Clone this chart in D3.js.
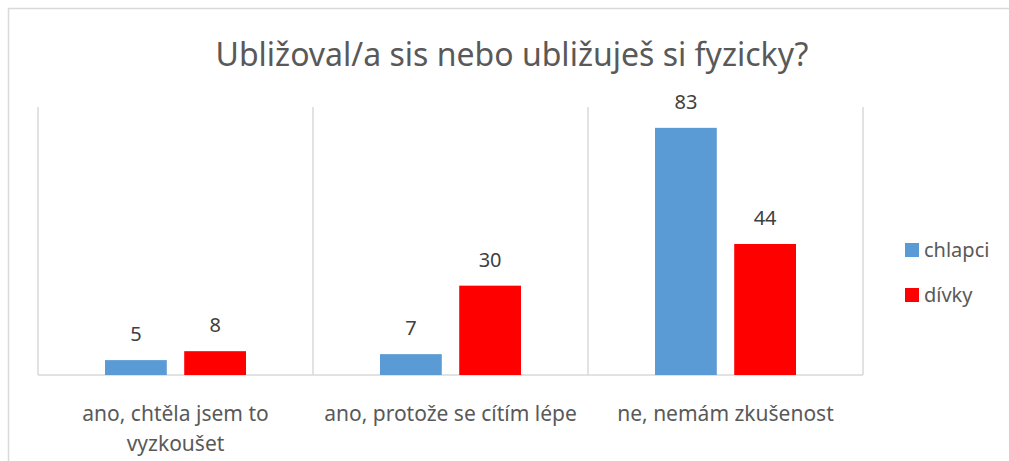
<!DOCTYPE html>
<html>
<head>
<meta charset="utf-8">
<script src="https://cdn.jsdelivr.net/npm/d3@7"></script>
<style>
  body { margin: 0; background: #fff; }
  text { font-family: "Noto Sans", sans-serif; }
</style>
</head>
<body>
<svg id="chart"></svg>
<script>
// data
var categories = [["ano, chtěla jsem to", "vyzkoušet"], ["ano, protože se cítím lépe"], ["ne, nemám zkušenost"]];
var seriesNames = ["chlapci", "dívky"];
var chlapci = [5, 7, 83];
var divky = [8, 30, 44];
var colors = ["#5B9BD5", "#FF0000"];

var W = 1009, H = 461;
var margin = {top: 107, right: 146, bottom: 86, left: 38},
    width = W - margin.left - margin.right,
    height = H - margin.top - margin.bottom;

var svg = d3.select("#chart").attr("width", W).attr("height", H);

// chart border
svg.append("rect")
    .attr("x", 8.5).attr("y", 8.5)
    .attr("width", W + 10).attr("height", H + 10)
    .attr("fill", "none").attr("stroke", "#d9d9d9").attr("stroke-width", 1.5);

svg.append("text")
    .attr("x", 512).attr("y", 66)
    .attr("text-anchor", "middle")
    .attr("fill", "#595959")
    .style("font-size", "32px")
    .text("Ubližoval/a sis nebo ubližuješ si fyzicky?");

var g = svg.append("g").attr("transform", "translate(" + margin.left + "," + margin.top + ")");

var idx = d3.range(categories.length);
var x0 = d3.scaleBand().domain(idx).range([0, width]).padding(0);
var x1 = d3.scaleBand().domain(seriesNames)
    .range([67, x0.bandwidth() - 67]).paddingInner(0.22);
var y = d3.scaleLinear().domain([0, 90]).range([height, 0]);

// vertical separators between categories
g.selectAll(".sep")
    .data(d3.range(categories.length + 1))
    .enter().append("line")
    .attr("x1", function (d) { return d * x0.step(); })
    .attr("x2", function (d) { return d * x0.step(); })
    .attr("y1", 0).attr("y2", height)
    .attr("stroke", "#d9d9d9").attr("stroke-width", 1.5);

// baseline
g.append("line")
    .attr("x1", 0).attr("x2", width)
    .attr("y1", height).attr("y2", height)
    .attr("stroke", "#d9d9d9").attr("stroke-width", 1.5);

var rows = idx.map(function (i) {
    return [{s: seriesNames[0], v: chlapci[i], c: colors[0]}, {s: seriesNames[1], v: divky[i], c: colors[1]}];
});

var groups = g.selectAll(".grp")
    .data(rows)
    .enter().append("g")
    .attr("transform", function (d, i) { return "translate(" + x0(i) + ",0)"; });

groups.selectAll("rect")
    .data(function (d) { return d; })
    .enter().append("rect")
    .attr("x", function (d) { return x1(d.s); })
    .attr("width", x1.bandwidth())
    .attr("y", function (d) { return y(d.v); })
    .attr("height", function (d) { return height - y(d.v); })
    .attr("fill", function (d) { return d.c; });

groups.selectAll(".val")
    .data(function (d) { return d; })
    .enter().append("text")
    .attr("x", function (d) { return x1(d.s) + x1.bandwidth() / 2; })
    .attr("y", function (d) { return y(d.v) - 19; })
    .attr("text-anchor", "middle")
    .attr("fill", "#404040")
    .style("font-size", "20px")
    .text(function (d) { return d.v; });

// category labels
var labels = g.selectAll(".cat")
    .data(categories)
    .enter().append("text")
    .attr("text-anchor", "middle")
    .attr("fill", "#595959")
    .style("font-size", "21px")
    .attr("transform", function (d, i) { return "translate(" + (x0(i) + x0.bandwidth() / 2) + "," + (height + 46) + ")"; });
labels.selectAll("tspan")
    .data(function (d) { return d; })
    .enter().append("tspan")
    .attr("x", 0)
    .attr("dy", function (d, i) { return i === 0 ? 0 : 30; })
    .text(function (d) { return d; });

// legend
var legend = svg.selectAll(".leg")
    .data(seriesNames)
    .enter().append("g")
    .attr("transform", function (d, i) { return "translate(905," + (243 + i * 45) + ")"; });
legend.append("rect")
    .attr("width", 14).attr("height", 14)
    .attr("fill", function (d, i) { return colors[i]; });
legend.append("text")
    .attr("x", 19).attr("y", 14)
    .attr("fill", "#595959")
    .style("font-size", "20px")
    .text(function (d) { return d; });
</script>
</body>
</html>
